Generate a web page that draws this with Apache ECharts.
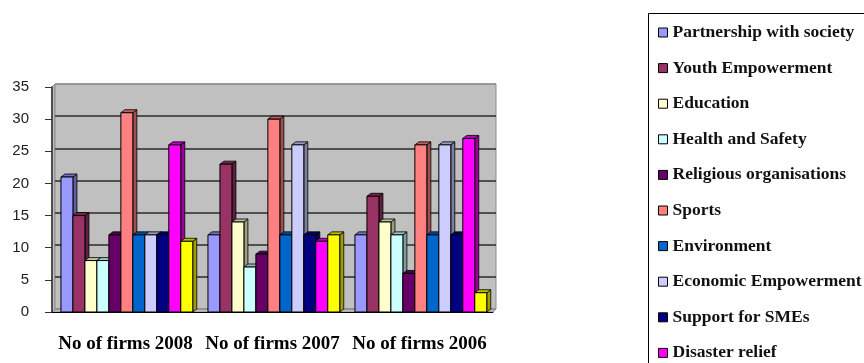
<!DOCTYPE html>
<html>
<head>
<meta charset="utf-8">
<script src="https://cdn.jsdelivr.net/npm/echarts@6/dist/echarts.min.js"></script>
<style>
  html, body { margin: 0; padding: 0; background: #ffffff; }
  #chart { width: 864px; height: 363px; }
</style>
</head>
<body>
<div id="chart"></div>
<script>
// Categories along the x axis
const categories = ['No of firms 2008', 'No of firms 2007', 'No of firms 2006'];

// One array per activity area: number of firms in 2008, 2007, 2006
const partnershipWithSociety = [21, 12, 12];
const youthEmpowerment       = [15, 23, 18];
const education              = [8, 14, 14];
const healthAndSafety        = [8, 7, 12];
const religiousOrganisations = [12, 9, 6];
const sports                 = [31, 30, 26];
const environment            = [12, 12, 12];
const economicEmpowerment    = [12, 26, 26];
const supportForSMEs         = [12, 12, 12];
const disasterRelief         = [26, 11, 27];
const others                 = [11, 12, 3];

const seriesNames = [
  'Partnership with society', 'Youth Empowerment', 'Education', 'Health and Safety',
  'Religious organisations', 'Sports', 'Environment', 'Economic Empowerment',
  'Support for SMEs', 'Disaster relief', 'Others'
];
const seriesValues = [
  partnershipWithSociety, youthEmpowerment, education, healthAndSafety,
  religiousOrganisations, sports, environment, economicEmpowerment,
  supportForSMEs, disasterRelief, others
];
const seriesColors = [
  '#9999FF', '#993366', '#FFFFCC', '#CCFFFF', '#660066', '#FF8080',
  '#0066CC', '#CCCCFF', '#000080', '#FF00FF', '#FFFF00'
];

// Value axis ticks
const yMin = 0, yMax = 35, yStep = 5;

// Darken a hex colour by a factor
function shade(hex, f) {
  const h = hex.replace('#', '');
  const r = Math.round(parseInt(h.slice(0, 2), 16) * f);
  const g = Math.round(parseInt(h.slice(2, 4), 16) * f);
  const b = Math.round(parseInt(h.slice(4, 6), 16) * f);
  return 'rgb(' + r + ',' + g + ',' + b + ')';
}

// Group layout within a category band
const GROUP_START = 0.439;   // fraction of band left of centre where the group starts
const PITCH = 0.0815;        // fraction of band per bar
const DEPTH_X = 4, DEPTH_Y = 3;

// Box-shaped bar: front face, right side, top
function bar3d(params, api) {
  const cat = api.value(0);
  const val = api.value(1);
  const band = api.size([1, 0])[0];
  const basePt = api.coord([cat, 0]);
  const top = api.coord([cat, val])[1];
  const base = basePt[1];
  const w = band * PITCH;
  const x = basePt[0] - band * GROUP_START + params.seriesIndex * w;
  const color = api.visual('color');
  return {
    type: 'group',
    children: [
      {
        type: 'polygon',
        shape: { points: [[x + w, top], [x + w + DEPTH_X, top - DEPTH_Y], [x + w + DEPTH_X, base - DEPTH_Y], [x + w, base]] },
        style: { fill: shade(color, 0.62), stroke: '#000', lineWidth: 0.8 }
      },
      {
        type: 'polygon',
        shape: { points: [[x, top], [x + DEPTH_X, top - DEPTH_Y], [x + w + DEPTH_X, top - DEPTH_Y], [x + w, top]] },
        style: { fill: shade(color, 0.75), stroke: '#000', lineWidth: 0.8 }
      },
      {
        type: 'rect',
        shape: { x: x, y: top, width: w, height: base - top },
        style: { fill: color, stroke: '#000', lineWidth: 1 }
      }
    ]
  };
}

const series = seriesNames.map((name, i) => ({
  type: 'custom',
  name: name,
  xAxisIndex: 1,
  yAxisIndex: 1,
  renderItem: bar3d,
  itemStyle: { color: seriesColors[i] },
  encode: { x: 0, y: 1 },
  data: seriesValues[i].map((v, c) => [c, v])
}));

const chart = echarts.init(document.getElementById('chart'), null, { renderer: 'canvas' });

chart.setOption({
  animation: false,
  backgroundColor: '#ffffff',
  grid: [
    // back wall
    { left: 55, top: 84, width: 441, height: 225, show: true, backgroundColor: '#C0C0C0', borderColor: '#8c8c8c', borderWidth: 1 },
    // front plane carrying the bars and the axes
    { left: 52, top: 87, width: 441, height: 225 }
  ],
  xAxis: [
    { gridIndex: 0, type: 'value', show: false },
    {
      gridIndex: 1,
      type: 'category',
      data: categories,
      boundaryGap: true,
      axisLine: { lineStyle: { color: '#000', width: 1 } },
      axisTick: { length: 6, lineStyle: { color: '#000' } },
      axisLabel: {
        interval: 0,
        hideOverlap: false,
        margin: 23,
        fontFamily: 'Liberation Serif',
        fontWeight: 'bold',
        fontSize: 19,
        color: '#000'
      },
      splitLine: { show: false }
    }
  ],
  yAxis: [
    {
      gridIndex: 0,
      type: 'value',
      min: yMin, max: yMax, interval: yStep,
      axisLine: { show: false },
      axisTick: { show: false },
      axisLabel: { show: false },
      splitLine: {
        show: true,
        lineStyle: { color: ['#8c8c8c', '#2b2b2b', '#2b2b2b', '#2b2b2b', '#2b2b2b', '#2b2b2b', '#2b2b2b', '#8c8c8c'], width: 1.6 }
      }
    },
    {
      gridIndex: 1,
      type: 'value',
      min: yMin, max: yMax, interval: yStep,
      axisLine: { show: true, lineStyle: { color: '#333', width: 1.6 } },
      axisTick: { show: true, length: 7, lineStyle: { color: '#333' } },
      axisLabel: {
        margin: 23,
        fontFamily: 'Liberation Sans',
        fontSize: 15,
        color: '#222'
      },
      splitLine: { show: false }
    }
  ],
  legend: {
    orient: 'vertical',
    left: 658,
    top: 23.5,
    padding: 0,
    itemGap: 17.6,
    itemWidth: 9,
    itemHeight: 9,
    icon: 'rect',
    itemStyle: { borderColor: '#000', borderWidth: 1 },
    textStyle: {
      fontFamily: 'Liberation Serif',
      fontWeight: 'bold',
      fontSize: 17.5,
      lineHeight: 18,
      color: '#111'
    },
    data: seriesNames
  },
  graphic: [
    // floor strip and side wall of the plot box
    {
      type: 'polygon',
      z: -1,
      shape: { points: [[52, 312], [55, 309], [496, 309], [493, 312]] },
      style: { fill: '#C0C0C0', stroke: '#8c8c8c', lineWidth: 1 }
    },
    {
      type: 'polygon',
      z: -1,
      shape: { points: [[52, 312], [52, 87], [55, 84], [55, 309]] },
      style: { fill: '#C0C0C0', stroke: '#8c8c8c', lineWidth: 1 }
    },
    // legend frame
    {
      type: 'rect',
      shape: { x: 648.5, y: 13.5, width: 300, height: 420 },
      style: { fill: 'none', stroke: '#000', lineWidth: 1 }
    }
  ],
  series: series
});
</script>
</body>
</html>
